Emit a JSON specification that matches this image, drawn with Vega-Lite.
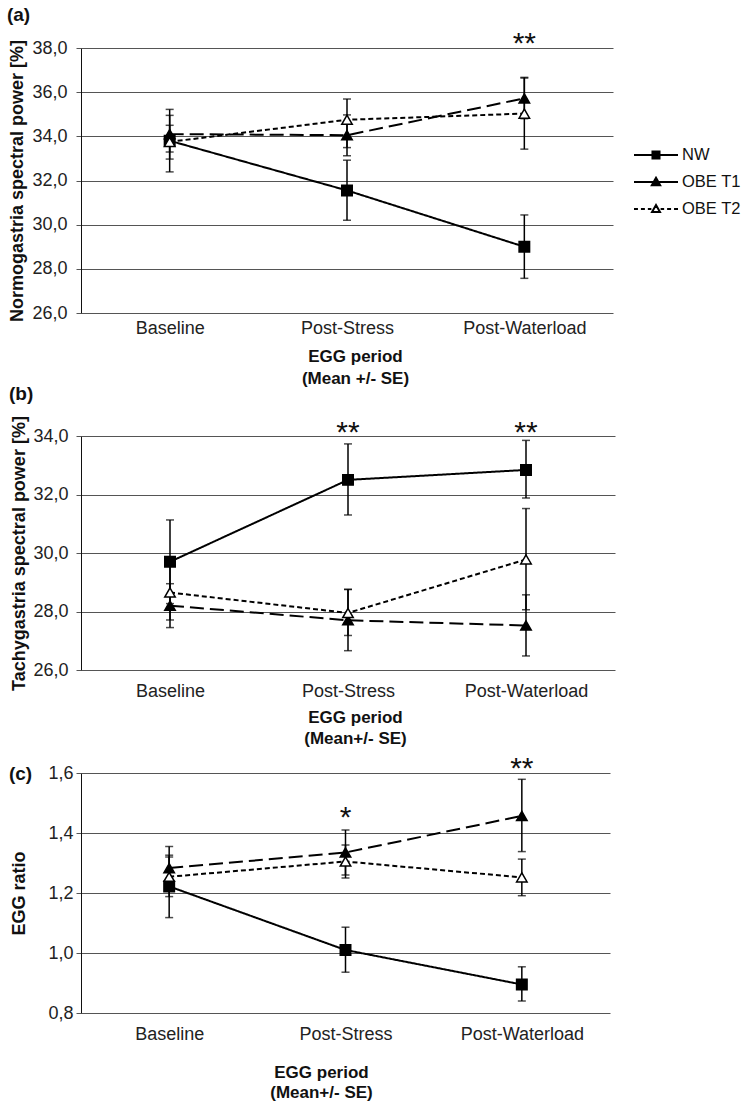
{
  "$schema": "https://vega.github.io/schema/vega-lite/v6.json",
  "background": "white",
  "padding": {"left": 6, "top": 6, "right": 5, "bottom": 5},
  "spacing": -2,
  "config": {
    "view": {"stroke": null},
    "font": "Liberation Sans",
    "axis": {"labelFont": "Liberation Sans", "titleFont": "Liberation Sans", "labelColor": "#222", "titleColor": "#111"},
    "title": {"font": "Liberation Sans", "fontSize": 19, "fontWeight": "bold", "color": "#111"}
  },
  "datasets": {
    "a": [
      {"period": "Baseline", "group": "NW", "mean": 33.8, "lo": 32.39, "hi": 35.22},
      {"period": "Baseline", "group": "OBE T1", "mean": 34.1, "lo": 33.29, "hi": 34.95},
      {"period": "Baseline", "group": "OBE T2", "mean": 33.75, "lo": 32.97, "hi": 34.5},
      {"period": "Post-Stress", "group": "NW", "mean": 31.55, "lo": 30.2, "hi": 32.92},
      {"period": "Post-Stress", "group": "OBE T1", "mean": 34.05, "lo": 33.12, "hi": 34.97},
      {"period": "Post-Stress", "group": "OBE T2", "mean": 34.75, "lo": 33.49, "hi": 35.69},
      {"period": "Post-Waterload", "group": "NW", "mean": 29.0, "lo": 27.57, "hi": 30.44},
      {"period": "Post-Waterload", "group": "OBE T1", "mean": 35.72, "lo": 34.8, "hi": 36.67},
      {"period": "Post-Waterload", "group": "OBE T2", "mean": 35.03, "lo": 33.42, "hi": 36.64}
    ],
    "b": [
      {"period": "Baseline", "group": "NW", "mean": 29.7, "lo": 28.27, "hi": 31.13},
      {"period": "Baseline", "group": "OBE T1", "mean": 28.2, "lo": 27.45, "hi": 28.95},
      {"period": "Baseline", "group": "OBE T2", "mean": 28.65, "lo": 27.71, "hi": 29.59},
      {"period": "Post-Stress", "group": "NW", "mean": 32.5, "lo": 31.3, "hi": 33.73},
      {"period": "Post-Stress", "group": "OBE T1", "mean": 27.7, "lo": 26.66, "hi": 28.75},
      {"period": "Post-Stress", "group": "OBE T2", "mean": 27.95, "lo": 27.18, "hi": 28.76},
      {"period": "Post-Waterload", "group": "NW", "mean": 32.84, "lo": 31.88, "hi": 33.85},
      {"period": "Post-Waterload", "group": "OBE T1", "mean": 27.52, "lo": 26.48, "hi": 28.57},
      {"period": "Post-Waterload", "group": "OBE T2", "mean": 29.78, "lo": 28.06, "hi": 31.52}
    ],
    "c": [
      {"period": "Baseline", "group": "NW", "mean": 1.222, "lo": 1.118, "hi": 1.326},
      {"period": "Baseline", "group": "OBE T1", "mean": 1.283, "lo": 1.212, "hi": 1.355},
      {"period": "Baseline", "group": "OBE T2", "mean": 1.254, "lo": 1.188, "hi": 1.32},
      {"period": "Post-Stress", "group": "NW", "mean": 1.01, "lo": 0.936, "hi": 1.086},
      {"period": "Post-Stress", "group": "OBE T1", "mean": 1.335, "lo": 1.26, "hi": 1.41},
      {"period": "Post-Stress", "group": "OBE T2", "mean": 1.305, "lo": 1.25, "hi": 1.36},
      {"period": "Post-Waterload", "group": "NW", "mean": 0.895, "lo": 0.84, "hi": 0.954},
      {"period": "Post-Waterload", "group": "OBE T1", "mean": 1.457, "lo": 1.338, "hi": 1.579},
      {"period": "Post-Waterload", "group": "OBE T2", "mean": 1.252, "lo": 1.191, "hi": 1.313}
    ],
    "stars_a": [{"period": "Post-Waterload", "sig": "**", "at": 38.45}],
    "stars_b": [{"period": "Post-Stress", "sig": "**", "at": 34.31}, {"period": "Post-Waterload", "sig": "**", "at": 34.31}],
    "stars_c": [{"period": "Post-Stress", "sig": "*", "at": 1.471}, {"period": "Post-Waterload", "sig": "**", "at": 1.633}]
  },
  "resolve": {"scale": {"shape": "independent", "fill": "independent", "strokeDash": "independent"}},
  "vconcat": [
    {
      "width": 532, "height": 265,
      "title": {"text": "(a)", "anchor": "start", "frame": "bounds", "dx": -2},
      "data": {"name": "a"},
      "encoding": {
        "x": {"field": "period", "type": "nominal", "sort": ["Baseline", "Post-Stress", "Post-Waterload"],
          "scale": {"type": "point", "padding": 0.5},
          "axis": {"title": ["EGG period", "(Mean +/- SE)"], "titleFontSize": 17, "titleFontWeight": "bold", "titleLineHeight": 22, "titlePadding": 11, "titleX": 274,
            "labelFontSize": 18, "labelPadding": 6, "labelAngle": 0, "ticks": false, "domain": false, "grid": false}}
      },
      "layer": [
        {"mark": {"type": "rule", "color": "black", "strokeWidth": 1.5},
          "encoding": {"y": {"field": "lo", "type": "quantitative", "scale": {"domain": [26, 38], "nice": false, "zero": false},
            "axis": {"title": "Normogastria spectral power [%]", "titleFontSize": 18, "titleFontWeight": "bold", "titlePadding": 5,
              "values": [26, 28, 30, 32, 34, 36, 38], "labelExpr": "replace(format(datum.value, '.1f'), '.', ',')",
              "labelFontSize": 18, "labelPadding": 9, "tickSize": 5, "tickColor": "#555", "gridColor": "#555", "grid": true, "domainColor": "#111"}},
            "y2": {"field": "hi"}}},
        {"mark": {"type": "tick", "orient": "horizontal", "size": 8, "thickness": 1.5, "color": "black"},
          "encoding": {"y": {"field": "lo", "type": "quantitative", "scale": {"domain": [26, 38], "nice": false, "zero": false}}}},
        {"mark": {"type": "tick", "orient": "horizontal", "size": 8, "thickness": 1.5, "color": "black"},
          "encoding": {"y": {"field": "hi", "type": "quantitative", "scale": {"domain": [26, 38], "nice": false, "zero": false}}}},
        {"mark": {"type": "line", "color": "black", "strokeWidth": 2},
          "encoding": {"y": {"field": "mean", "type": "quantitative", "scale": {"domain": [26, 38], "nice": false, "zero": false}},
            "detail": {"field": "group"},
            "strokeDash": {"field": "group", "type": "nominal", "scale": {"range": [[1, 0], [14, 6], [5, 3]]}, "legend": null}}},
        {"mark": {"type": "point", "stroke": "black", "strokeWidth": 1.5, "opacity": 1, "size": 110},
          "encoding": {"y": {"field": "mean", "type": "quantitative", "scale": {"domain": [26, 38], "nice": false, "zero": false}},
            "shape": {"field": "group", "type": "nominal", "scale": {"range": ["square", "triangle-up", "triangle-up"]}, "legend": null},
            "fill": {"field": "group", "type": "nominal", "scale": {"domain": ["NW", "OBE T1", "OBE T2"], "range": ["black", "black", "white"]},
              "legend": {"title": null, "orient": "none", "legendX": 552, "legendY": 95, "padding": 0,
                "labelFont": "Liberation Sans", "labelFontSize": 16.5, "labelColor": "#111", "labelOffset": 25,
                "symbolSize": 484, "rowPadding": 6, "symbolStrokeWidth": 2, "symbolStrokeColor": "black", "symbolOpacity": 1,
                "symbolType": {"expr": "datum.value === 'NW' ? 'M-1,0H3M0.68,-0.32H1.32V0.32H0.68Z' : datum.value === 'OBE T1' ? 'M-1,0H3M1,-0.38L1.38,0.3H0.62Z' : 'M-1,0H-0.64M-0.37,0H-0.01M0.26,0H0.58M1.42,0H1.74M2.01,0H2.37M2.64,0H3M1,-0.36L1.36,0.28H0.64Z'"}}}}},
        {"data": {"name": "stars_a"},
          "mark": {"type": "text", "fontSize": 30, "font": "Liberation Sans", "baseline": "middle", "dy": 6, "color": "#111"},
          "encoding": {"y": {"field": "at", "type": "quantitative", "scale": {"domain": [26, 38], "nice": false, "zero": false}}, "text": {"field": "sig"}}}
      ]
    },
    {
      "width": 534, "height": 234,
      "title": {"text": "(b)", "anchor": "start", "frame": "bounds", "dx": -2, "offset": 12},
      "data": {"name": "b"},
      "encoding": {
        "x": {"field": "period", "type": "nominal", "sort": ["Baseline", "Post-Stress", "Post-Waterload"],
          "scale": {"type": "point", "padding": 0.5},
          "axis": {"title": ["EGG period", "(Mean+/- SE)"], "titleFontSize": 17, "titleFontWeight": "bold", "titleLineHeight": 21, "titlePadding": 9, "titleX": 274,
            "labelFontSize": 18, "labelPadding": 12, "labelAngle": 0, "ticks": false, "domain": false, "grid": false}}
      },
      "layer": [
        {"mark": {"type": "rule", "color": "black", "strokeWidth": 1.5},
          "encoding": {"y": {"field": "lo", "type": "quantitative", "scale": {"domain": [26, 34], "nice": false, "zero": false},
            "axis": {"title": "Tachygastria spectral power [%]", "titleFontSize": 18, "titleFontWeight": "bold", "titlePadding": 4,
              "values": [26, 28, 30, 32, 34], "labelExpr": "replace(format(datum.value, '.1f'), '.', ',')",
              "labelFontSize": 18, "labelPadding": 8, "tickSize": 5, "tickColor": "#555", "gridColor": "#555", "grid": true, "domainColor": "#111"}},
            "y2": {"field": "hi"}}},
        {"mark": {"type": "tick", "orient": "horizontal", "size": 8, "thickness": 1.5, "color": "black"},
          "encoding": {"y": {"field": "lo", "type": "quantitative", "scale": {"domain": [26, 34], "nice": false, "zero": false}}}},
        {"mark": {"type": "tick", "orient": "horizontal", "size": 8, "thickness": 1.5, "color": "black"},
          "encoding": {"y": {"field": "hi", "type": "quantitative", "scale": {"domain": [26, 34], "nice": false, "zero": false}}}},
        {"mark": {"type": "line", "color": "black", "strokeWidth": 2},
          "encoding": {"y": {"field": "mean", "type": "quantitative", "scale": {"domain": [26, 34], "nice": false, "zero": false}},
            "detail": {"field": "group"},
            "strokeDash": {"field": "group", "type": "nominal", "scale": {"range": [[1, 0], [14, 6], [5, 3]]}, "legend": null}}},
        {"mark": {"type": "point", "stroke": "black", "strokeWidth": 1.5, "opacity": 1, "size": 110},
          "encoding": {"y": {"field": "mean", "type": "quantitative", "scale": {"domain": [26, 34], "nice": false, "zero": false}},
            "shape": {"field": "group", "type": "nominal", "scale": {"range": ["square", "triangle-up", "triangle-up"]}, "legend": null},
            "fill": {"field": "group", "type": "nominal", "scale": {"domain": ["NW", "OBE T1", "OBE T2"], "range": ["black", "black", "white"]}, "legend": null}}},
        {"data": {"name": "stars_b"},
          "mark": {"type": "text", "fontSize": 30, "font": "Liberation Sans", "baseline": "middle", "dy": 6, "color": "#111"},
          "encoding": {"y": {"field": "at", "type": "quantitative", "scale": {"domain": [26, 34], "nice": false, "zero": false}}, "text": {"field": "sig"}}}
      ]
    },
    {
      "width": 529, "height": 240,
      "title": {"text": ["", "(c)"], "lineHeight": 21, "anchor": "start", "frame": "bounds", "dx": -2, "dy": 34},
      "data": {"name": "c"},
      "encoding": {
        "x": {"field": "period", "type": "nominal", "sort": ["Baseline", "Post-Stress", "Post-Waterload"],
          "scale": {"type": "point", "padding": 0.5},
          "axis": {"title": ["EGG period", "(Mean+/- SE)"], "titleFontSize": 17, "titleFontWeight": "bold", "titleLineHeight": 20, "titlePadding": 21, "titleX": 240,
            "labelFontSize": 18, "labelPadding": 12, "labelAngle": 0, "ticks": false, "domain": false, "grid": false}}
      },
      "layer": [
        {"mark": {"type": "rule", "color": "black", "strokeWidth": 1.5},
          "encoding": {"y": {"field": "lo", "type": "quantitative", "scale": {"domain": [0.8, 1.6], "nice": false, "zero": false},
            "axis": {"title": "EGG ratio", "titleFontSize": 18, "titleFontWeight": "bold", "titlePadding": 19,
              "values": [0.8, 0.9, 1.0, 1.1, 1.2, 1.3, 1.4, 1.5, 1.6], "labelExpr": "replace(format(datum.value, '.1f'), '.', ',')",
              "labelFontSize": 18, "labelPadding": 3, "tickSize": 5, "tickColor": "#555", "gridColor": "#555", "grid": true, "domainColor": "#111"}},
            "y2": {"field": "hi"}}},
        {"mark": {"type": "tick", "orient": "horizontal", "size": 8, "thickness": 1.5, "color": "black"},
          "encoding": {"y": {"field": "lo", "type": "quantitative", "scale": {"domain": [0.8, 1.6], "nice": false, "zero": false}}}},
        {"mark": {"type": "tick", "orient": "horizontal", "size": 8, "thickness": 1.5, "color": "black"},
          "encoding": {"y": {"field": "hi", "type": "quantitative", "scale": {"domain": [0.8, 1.6], "nice": false, "zero": false}}}},
        {"mark": {"type": "line", "color": "black", "strokeWidth": 2},
          "encoding": {"y": {"field": "mean", "type": "quantitative", "scale": {"domain": [0.8, 1.6], "nice": false, "zero": false}},
            "detail": {"field": "group"},
            "strokeDash": {"field": "group", "type": "nominal", "scale": {"range": [[1, 0], [14, 6], [5, 3]]}, "legend": null}}},
        {"mark": {"type": "point", "stroke": "black", "strokeWidth": 1.5, "opacity": 1, "size": 110},
          "encoding": {"y": {"field": "mean", "type": "quantitative", "scale": {"domain": [0.8, 1.6], "nice": false, "zero": false}},
            "shape": {"field": "group", "type": "nominal", "scale": {"range": ["square", "triangle-up", "triangle-up"]}, "legend": null},
            "fill": {"field": "group", "type": "nominal", "scale": {"domain": ["NW", "OBE T1", "OBE T2"], "range": ["black", "black", "white"]}, "legend": null}}},
        {"data": {"name": "stars_c"},
          "mark": {"type": "text", "fontSize": 30, "font": "Liberation Sans", "baseline": "middle", "dy": 6, "color": "#111"},
          "encoding": {"y": {"field": "at", "type": "quantitative", "scale": {"domain": [0.8, 1.6], "nice": false, "zero": false}}, "text": {"field": "sig"}}}
      ]
    }
  ]
}
